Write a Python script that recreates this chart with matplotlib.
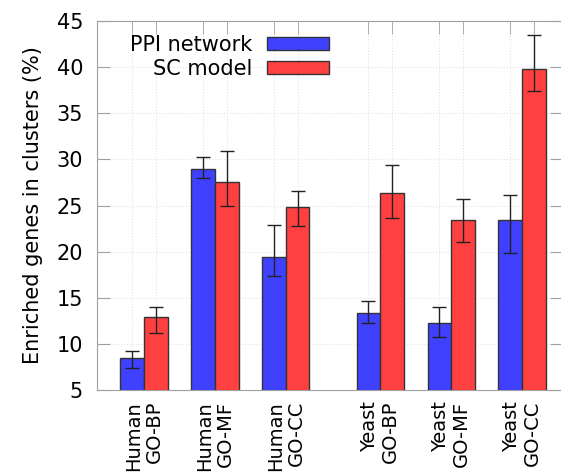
import numpy as np
import matplotlib
matplotlib.use("Agg")
import matplotlib.pyplot as plt

# data
groups = ["Human\nGO-BP", "Human\nGO-MF", "Human\nGO-CC",
          "Yeast\nGO-BP", "Yeast\nGO-MF", "Yeast\nGO-CC"]
ppi = [8.45, 28.95, 19.4, 13.3, 12.25, 23.45]
ppi_low = [7.35, 27.95, 17.4, 12.3, 10.75, 19.8]
ppi_high = [9.25, 30.3, 22.85, 14.7, 13.95, 26.15]
sc = [12.9, 27.55, 24.85, 26.4, 23.4, 39.85]
sc_low = [11.2, 24.95, 22.8, 23.65, 21.05, 37.45]
sc_high = [14.05, 30.9, 26.55, 29.4, 25.75, 43.5]

plt.rcParams['font.family'] = ['DejaVu Sans']
plt.rcParams['font.size'] = 15

fig = plt.figure(figsize=(5.61, 4.74), dpi=100)
ax = fig.add_axes([97 / 561, 84 / 474, 464.5 / 561, 369 / 474])

pos = np.array([0, 1, 2, 10 / 3, 13 / 3, 16 / 3])
w = 1 / 3
blue = "#4040ff"
red = "#ff4040"
gray = "#a0a0a0"

ppi = np.array(ppi)
sc = np.array(sc)
ppi_err = [ppi - np.array(ppi_low), np.array(ppi_high) - ppi]
sc_err = [sc - np.array(sc_low), np.array(sc_high) - sc]

ax.bar(pos - w / 2, ppi, w, color=blue, edgecolor="#333333",
       linewidth=1, label="PPI network", zorder=3)
ax.bar(pos + w / 2, sc, w, color=red, edgecolor="#333333",
       linewidth=1, label="SC model", zorder=3)
ax.errorbar(pos - w / 2, ppi, yerr=ppi_err, fmt="none", ecolor="#222222",
            elinewidth=1, capsize=5, capthick=1, zorder=4)
ax.errorbar(pos + w / 2, sc, yerr=sc_err, fmt="none", ecolor="#222222",
            elinewidth=1, capsize=5, capthick=1, zorder=4)

ax.set_ylim(5, 45)
ax.set_xlim(-0.663, 5.89)
ax.set_yticks(np.arange(5, 46, 5))
ax.set_xticks(pos)
ax.set_xticklabels(groups, rotation=90, ha="center", va="top",
                   multialignment="right", linespacing=1.1, fontsize=14)
ax.set_xticks(np.concatenate([pos - w / 2, pos + w / 2]), minor=True)

ax.tick_params(axis="x", which="major", length=0, pad=8)
ax.tick_params(axis="x", which="minor", bottom=False, top=True,
               direction="in", length=9, color=gray)
ax.tick_params(axis="y", left=True, right=True, direction="in",
               length=9, color=gray, pad=10)
for s in ax.spines.values():
    s.set_color(gray)

ax.grid(axis="y", which="major", color="#e4e4e4", linestyle=":", linewidth=0.8, zorder=0)
ax.grid(axis="x", which="minor", color="#e4e4e4", linestyle=":", linewidth=0.8, zorder=0)

ax.set_ylabel("Enriched genes in clusters (%)", labelpad=10)

ax.legend(loc="upper right", bbox_to_anchor=(0.4995, 0.962), frameon=False,
          markerfirst=False, handlelength=3.0, handleheight=0.58,
          labelspacing=0.2, handletextpad=0.67, borderaxespad=0,
          borderpad=0)

fig.savefig("out.png", dpi=100)
